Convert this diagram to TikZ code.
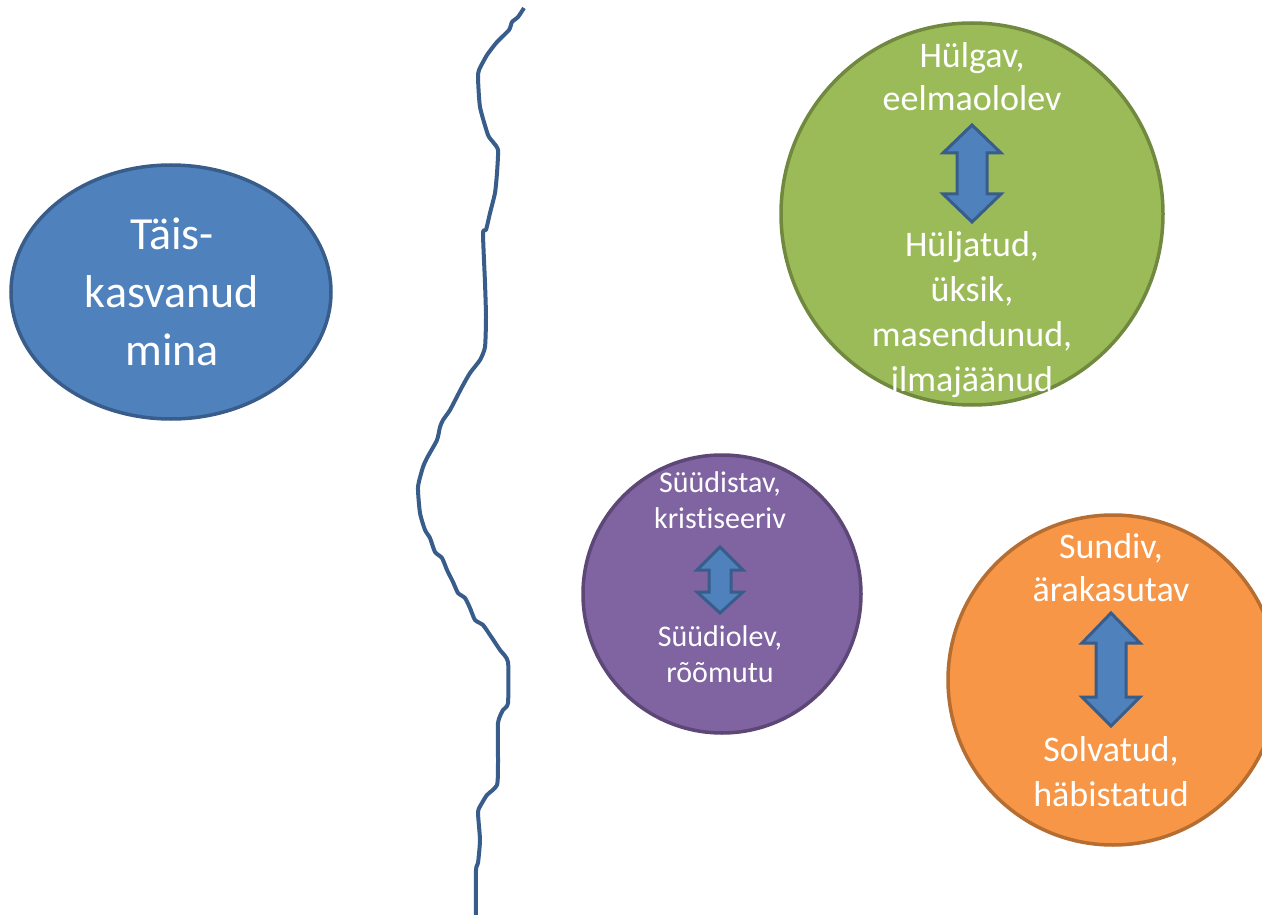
\documentclass[tikz,border=0pt]{standalone}
\usepackage{fontspec}
\setmainfont{Carlito}[Ligatures={NoCommon}]
\definecolor{bfill}{HTML}{4F81BD}
\definecolor{bline}{HTML}{385D8A}
\definecolor{gfill}{HTML}{9BBB59}
\definecolor{gline}{HTML}{71893F}
\definecolor{pfill}{HTML}{8064A2}
\definecolor{pline}{HTML}{5C4776}
\definecolor{ofill}{HTML}{F79646}
\definecolor{oline}{HTML}{B66D31}
\tikzset{
  bubble/.style={line width=3.5pt},
  txt/.style={text=white, align=center, inner sep=0pt},
  dblarrow/.style={fill=bfill, draw=bline, line width=3pt, line join=miter},
  split/.style={draw=bline, line width=4pt, line join=round, line cap=butt}
}
\begin{document}
\begin{tikzpicture}[x=1pt,y=-1pt]
\useasboundingbox (0,0) rectangle (1262,915);
\clip (0,0) rectangle (1262,915);
\fill[white] (0,0) rectangle (1262,915);
% wavy split line
\draw[split] plot[smooth, tension=0.35] coordinates {
(524,8) (518,17) (512,22) (509,30) (497,42) (487,55) (479,70) (478,78)
(480,107) (488,135) (493,142) (498,150) (497,173) (495,193) (490,213)
(486,230) (483,233) (485,283) (486,317) (485,347) (480,360) (470,373)
(462,387) (450,410) (443,420) (440,427) (437,440) (427,458) (423,467)
(418,487) (420,513) (425,530) (430,538) (435,552) (442,558) (447,570)
(453,582) (458,593) (465,598) (470,608) (475,620) (483,625) (490,635)
(500,650) (508,662) (508,703) (503,710) (498,723) (498,763) (497,785)
(487,795) (482,803) (478,812) (480,840) (478,863) (476,870) (476,916)};
% blue ellipse
\draw[bubble, fill=bfill, draw=bline] (171,292) ellipse [x radius=160, y radius=127];
\node[txt, font=\fontsize{46}{58}\selectfont] (adult) at (172,292) {Täis-\\kasvanud\\mina};
% green circle
\draw[bubble, fill=gfill, draw=gline] (972,214) circle [radius=191];
\node[txt, font=\fontsize{36}{43}\selectfont] (g1) at (972,77) {Hülgav,\\eelmaololev};
\node[txt, font=\fontsize{36}{45}\selectfont] (g2) at (972,315) {Hüljatud,\\üksik,\\masendunud,\\ilmajäänud};
\draw[dblarrow] (972,125) -- (1001,153) -- (987,153) -- (987,194) -- (1001,194) -- (972,222)
  -- (943,194) -- (957,194) -- (957,153) -- (943,153) -- cycle;
% purple circle
\draw[bubble, fill=pfill, draw=pline] (722,594) circle [radius=139];
\node[txt, font=\fontsize{30}{36}\selectfont] (p1) at (720,500) {Süüdistav,\\kristiseeriv};
\node[txt, font=\fontsize{30}{36}\selectfont] (p2) at (720,654) {Süüdiolev,\\rõõmutu};
\draw[dblarrow] (720,547) -- (743,570) -- (731,570) -- (731,592) -- (743,592) -- (720,613)
  -- (697,592) -- (709,592) -- (709,570) -- (697,570) -- cycle;
% orange circle
\draw[bubble, fill=ofill, draw=oline] (1113,680) circle [radius=165];
\node[txt, font=\fontsize{36}{43}\selectfont] (o1) at (1111,568) {Sundiv,\\ärakasutav};
\node[txt, font=\fontsize{36}{45}\selectfont] (o2) at (1111,772) {Solvatud,\\häbistatud};
\draw[dblarrow] (1111,613) -- (1140,643) -- (1126,643) -- (1126,697) -- (1140,697) -- (1111,726)
  -- (1082,697) -- (1096,697) -- (1096,643) -- (1082,643) -- cycle;
\end{tikzpicture}
\end{document}
